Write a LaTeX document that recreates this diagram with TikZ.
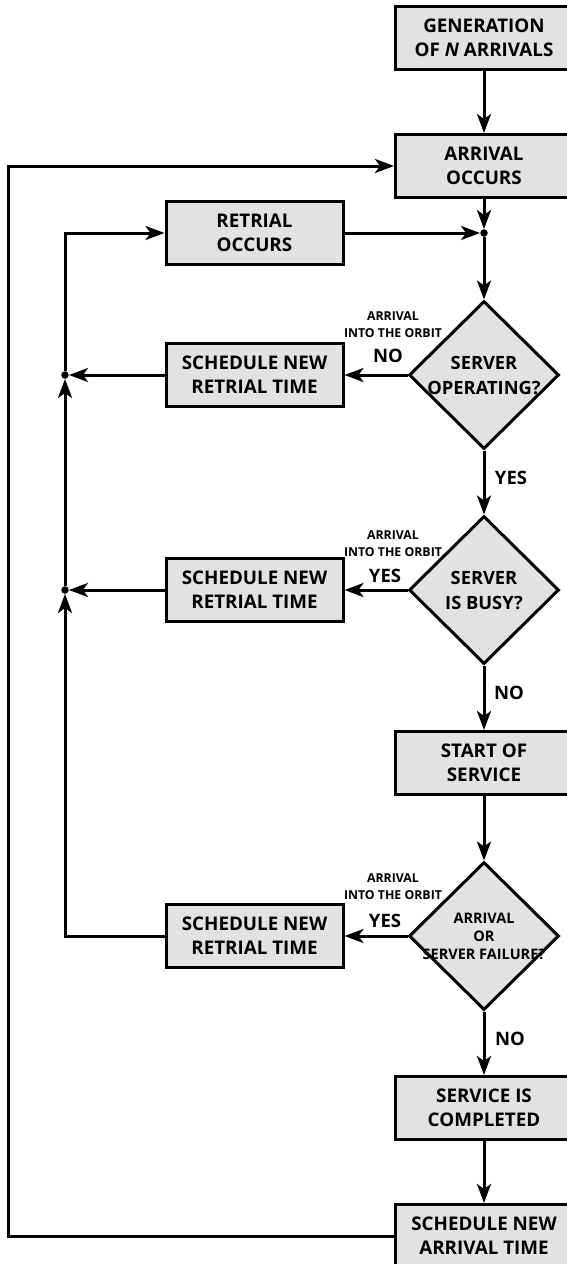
\documentclass[tikz,border=0pt]{standalone}
\usepackage{fontspec}
\setmainfont{Open Sans}
\usepackage{tikz}
\usetikzlibrary{shapes.geometric,arrows.meta,positioning}
\definecolor{boxgray}{RGB}{226,226,226}

\begin{document}
\begin{tikzpicture}[
    x=1pt, y=-1pt,
    box/.style={draw, rectangle, line width=3pt, minimum width=177pt, minimum height=63pt, align=center, fill=boxgray, inner sep=0pt, font=\bfseries\fontsize{18.8}{24}\selectfont},
    decision/.style={draw, diamond, line width=3pt, minimum width=150pt, minimum height=148pt, inner sep=0pt, fill=boxgray},
    dtext/.style={align=center, inner sep=0pt, font=\bfseries\fontsize{18.3}{25}\selectfont},
    dsmall/.style={align=center, inner sep=0pt, font=\bfseries\fontsize{14.5}{18}\selectfont},
    note/.style={align=center, inner sep=0pt, font=\bfseries\fontsize{12.3}{17}\selectfont},
    answer/.style={inner sep=0pt, font=\bfseries\fontsize{18.5}{22}\selectfont},
    dot/.style={circle, fill=black, inner sep=0pt, minimum size=7.5pt},
    arrow/.style={-{Stealth[length=19pt, width=14pt, inset=5pt]}, line width=3pt}
]
    \useasboundingbox (0,0) rectangle (567,1264);

    % main column
    \node[box] (gen) at (484,37.5) {GENERATION\\OF \textit{N} ARRIVALS};
    \node[box] (arr) at (484,166) {ARRIVAL\\OCCURS};
    \node[dot] (jtop) at (484,233) {};
    \node[decision, label={[dtext]center:SERVER\\OPERATING?}] (oper) at (484,375) {};
    \node[decision, label={[dtext]center:SERVER\\IS BUSY?}] (busy) at (484,590) {};
    \node[box] (start) at (484,763) {START OF\\SERVICE};
    \node[decision, label={[dsmall]center:ARRIVAL\\OR\\SERVER FAILURE?}] (fail) at (484,936) {};
    \node[box] (done) at (484,1108) {SERVICE IS\\COMPLETED};
    \node[box] (newarr) at (484,1236) {SCHEDULE NEW\\ARRIVAL TIME};

    % orbit column
    \node[box] (retrial) at (254.5,233) {RETRIAL\\OCCURS};
    \node[box] (sched1) at (254.5,375) {SCHEDULE NEW\\RETRIAL TIME};
    \node[box] (sched2) at (254.5,590) {SCHEDULE NEW\\RETRIAL TIME};
    \node[box] (sched3) at (254.5,936) {SCHEDULE NEW\\RETRIAL TIME};
    \node[dot] (jone) at (65,375) {};
    \node[dot] (jtwo) at (65,590) {};
    \coordinate (orbitL) at (65,233);
    \coordinate (loopL) at (8,166);

    % labels
    \node[note] (orbit1) at (393,325) {ARRIVAL\\INTO THE ORBIT};
    \node[answer] (no1) at (388,356) {NO};
    \node[answer] (yes1) at (511,478) {YES};
    \node[note] (orbit2) at (393,543.5) {ARRIVAL\\INTO THE ORBIT};
    \node[answer] (yes2) at (385,576) {YES};
    \node[answer] (no2) at (509,693) {NO};
    \node[note] (orbit3) at (393,887) {ARRIVAL\\INTO THE ORBIT};
    \node[answer] (yes3) at (385,921) {YES};
    \node[answer] (no3) at (510,1039) {NO};

    % connectors
    \draw[arrow] (gen) -- (arr);
    \draw[arrow] (arr) -- (jtop);
    \draw[arrow] (retrial) -- (jtop);
    \draw[arrow] (jtop) -- (oper);
    \draw[arrow] (oper) -- (busy);
    \draw[arrow] (busy) -- (start);
    \draw[arrow] (start) -- (fail);
    \draw[arrow] (fail) -- (done);
    \draw[arrow] (done) -- (newarr);

    \draw[arrow] (oper.west) -- (sched1.east);
    \draw[arrow] (busy.west) -- (sched2.east);
    \draw[arrow] (fail.west) -- (sched3.east);

    \draw[arrow] (sched1) -- (jone);
    \draw[arrow] (sched2) -- (jtwo);
    \draw[arrow] (sched3.west) -| (jtwo);
    \draw[arrow] (jtwo) -- (jone);
    \draw[arrow] (jone) -- (orbitL) -- (retrial);

    \draw[arrow] (newarr.west) -| (loopL) -- (arr.west);
\end{tikzpicture}
\end{document}
